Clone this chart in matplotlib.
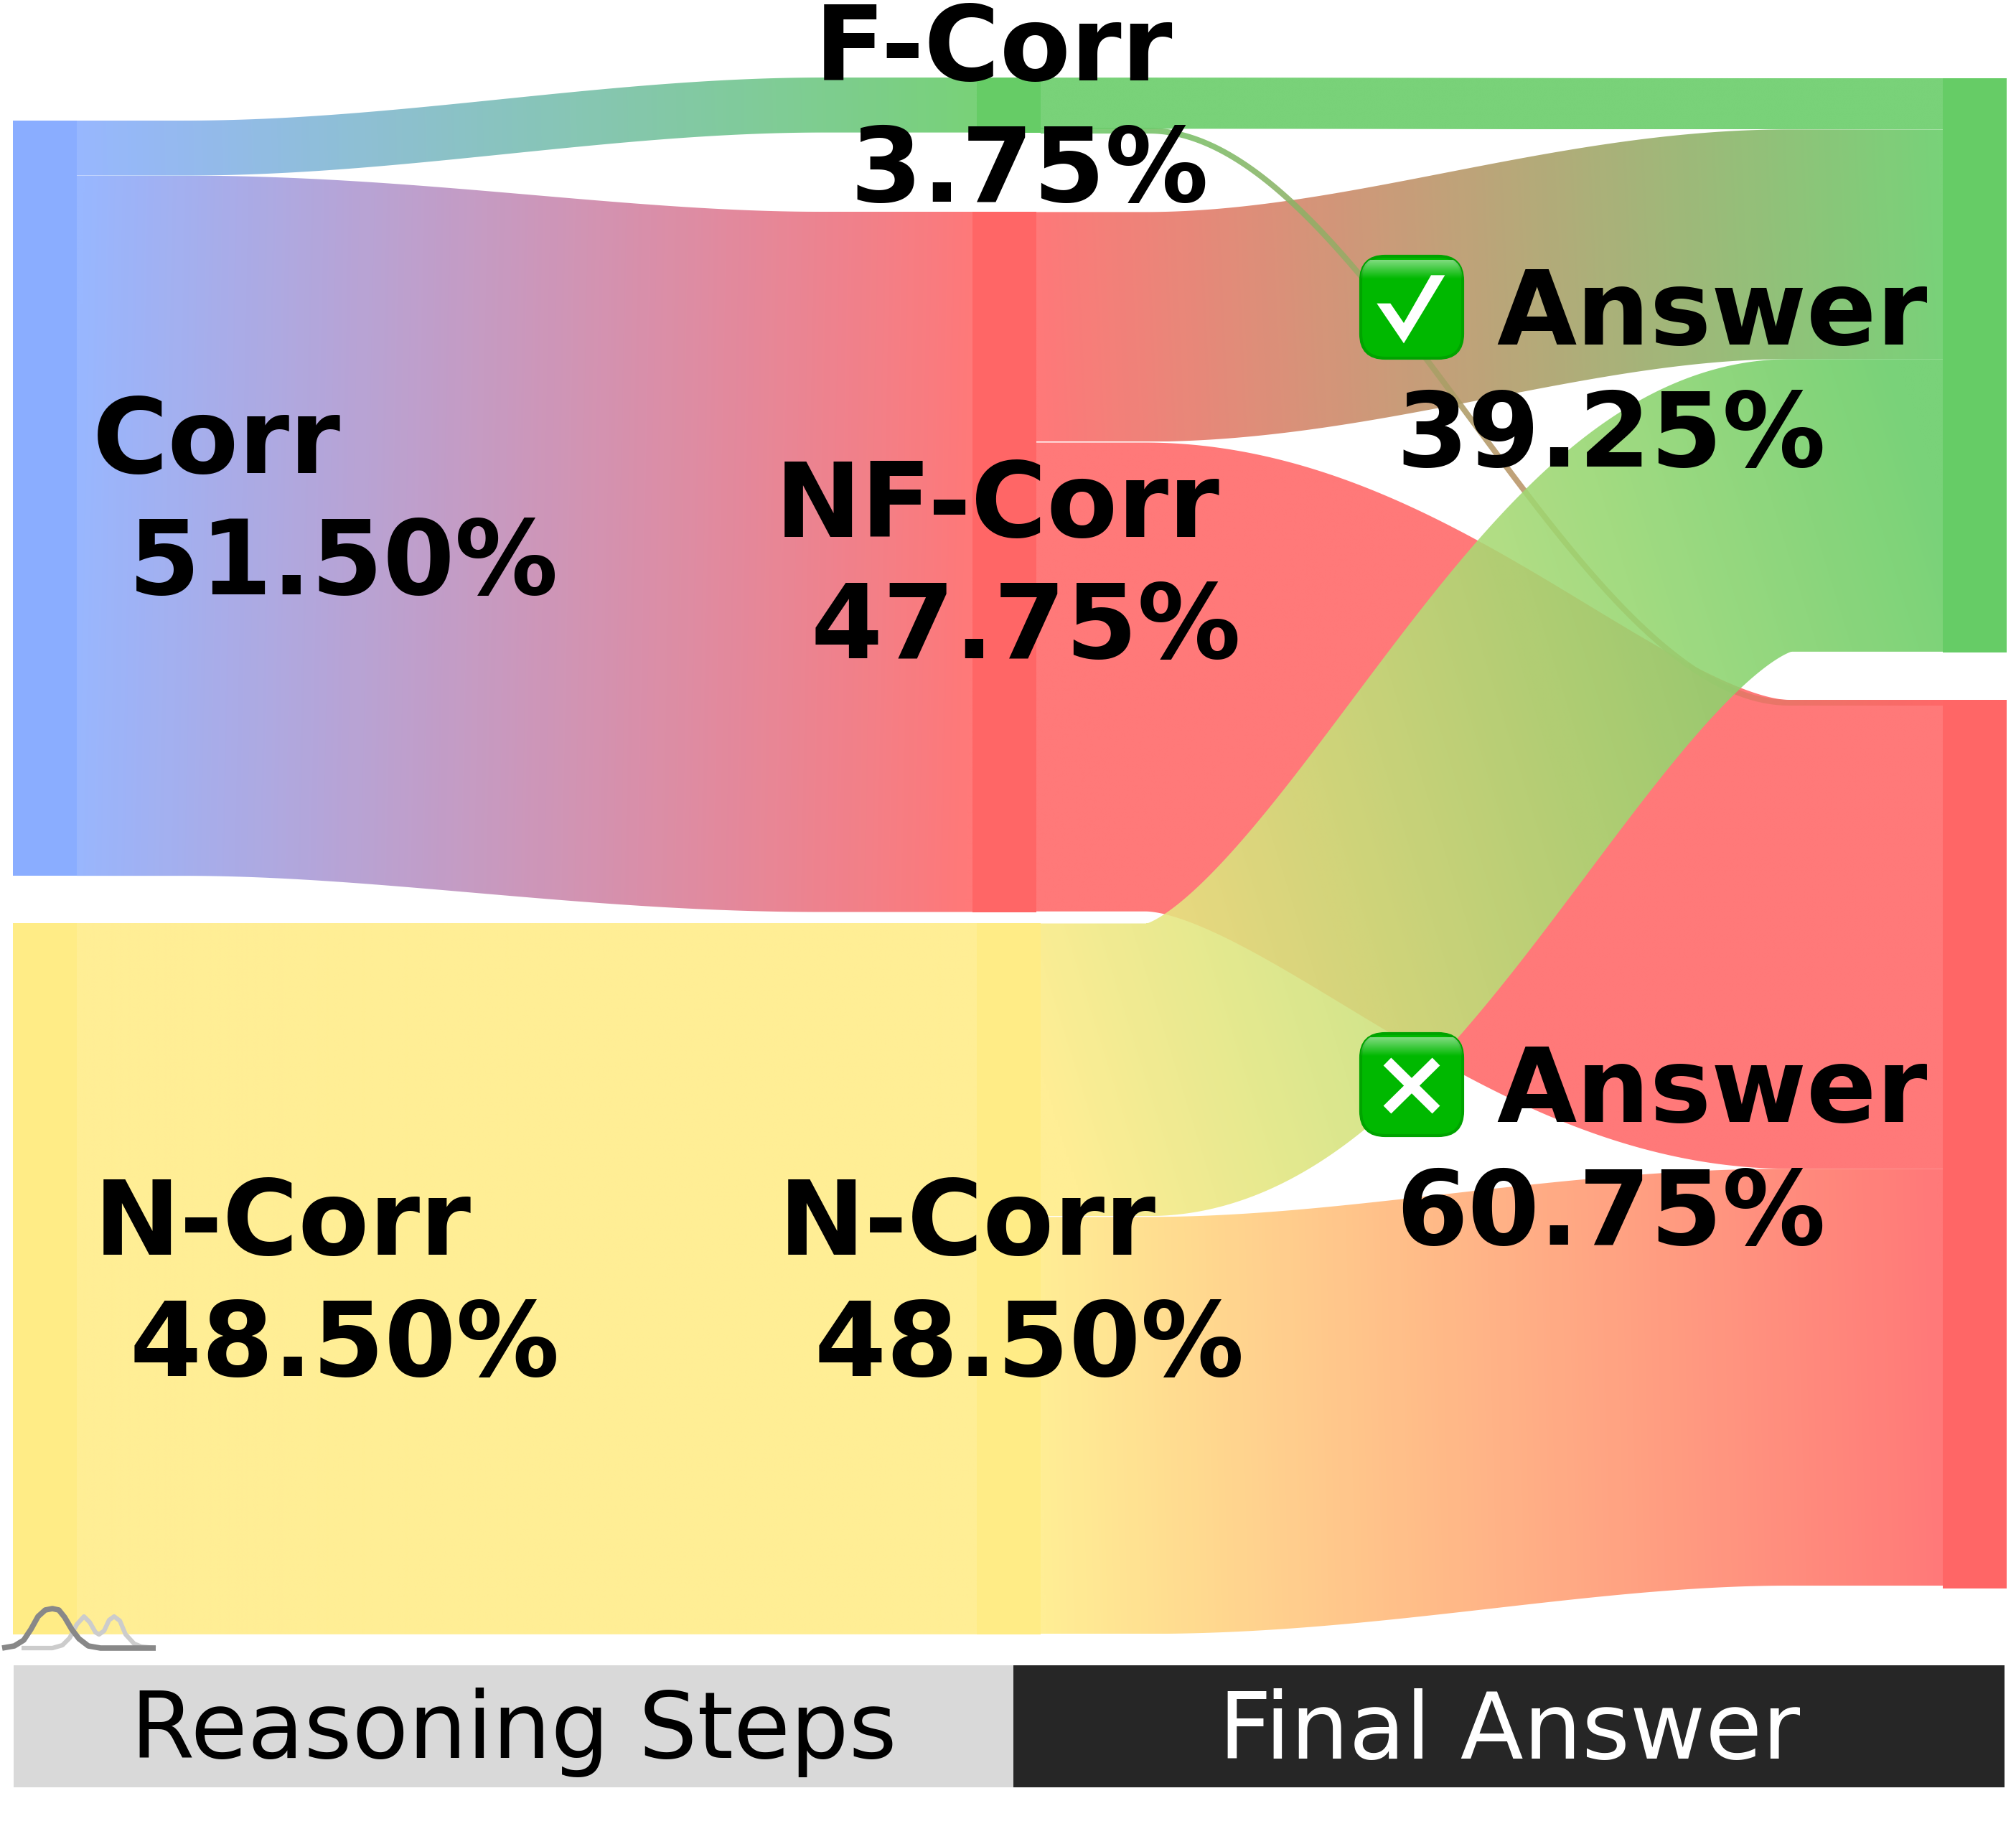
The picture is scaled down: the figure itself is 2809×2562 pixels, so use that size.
import numpy as np
import matplotlib
matplotlib.use("Agg")
import matplotlib.pyplot as plt
from matplotlib.colors import to_rgb
from matplotlib.patches import FancyBboxPatch, Polygon
from matplotlib.path import Path

W, H = 2809, 2562
PX_PER_PCT = 20.43
PX_PER_PCT_RIGHT = 20.38
LINK_ALPHA = 0.88
MIN_LINK_PX = 8
CURVE_K = 0.34
LEAD_IN = 0.12
LEAD_OUT = 0.17
GRADIENT_TILT = 0.5

# node name -> share in percent
node_names = ["Corr", "N-Corr L", "F-Corr", "NF-Corr", "N-Corr M", "Correct", "Wrong"]
node_values = [51.50, 48.50, 3.75, 47.75, 48.50, 39.25, 60.75]
node_colors = ["#8AADFF", "#FFEC86", "#66CC66", "#FF6666", "#FFEC86", "#66CC66", "#FF6666"]

# links, in drawing order
link_sources = ["Corr", "Corr", "N-Corr L", "NF-Corr", "N-Corr M", "NF-Corr", "F-Corr", "F-Corr", "N-Corr M"]
link_targets = ["F-Corr", "NF-Corr", "N-Corr M", "Wrong", "Wrong", "Correct", "Wrong", "Correct", "Correct"]
link_values = [3.75, 47.75, 48.50, 32.05, 28.50, 15.70, 0.25, 3.50, 20.00]

# logo in the lower left corner
logo_dark_x = [3, 20, 33, 43, 53, 63, 73, 82, 90, 100, 110, 123, 140, 217]
logo_dark_y = [2296, 2293, 2285, 2270, 2252, 2243, 2241, 2243, 2253, 2270, 2283, 2293, 2296, 2296]
logo_light_x = [30, 73, 87, 97, 107, 117, 125, 133, 138, 145, 152, 159, 167, 175, 187, 197, 217]
logo_light_y = [2296, 2296, 2292, 2282, 2263, 2252, 2260, 2274, 2277, 2272, 2257, 2252, 2258, 2277, 2290, 2294, 2296]

# layout of the sankey, in pixels of the reference
node_left = {"Corr": 18, "N-Corr L": 18, "F-Corr": 1361, "NF-Corr": 1355, "N-Corr M": 1361, "Correct": 2707, "Wrong": 2707}
node_top = {"Corr": 168, "N-Corr L": 1286, "F-Corr": 108, "NF-Corr": 295, "N-Corr M": 1286, "Correct": 109, "Wrong": 975}
NODE_W = 89

# top to bottom inside each node
out_order = {"Corr": ["F-Corr", "NF-Corr"], "N-Corr L": ["N-Corr M"], "F-Corr": ["Correct", "Wrong"],
             "NF-Corr": ["Correct", "Wrong"], "N-Corr M": ["Correct", "Wrong"]}
in_order = {"F-Corr": ["Corr"], "NF-Corr": ["Corr"], "N-Corr M": ["N-Corr L"],
            "Correct": ["F-Corr", "NF-Corr", "N-Corr M"], "Wrong": ["NF-Corr", "N-Corr M"]}

fig = plt.figure(figsize=(W / 100, H / 100), dpi=100)
ax = fig.add_axes([0, 0, 1, 1])
ax.set_axis_off()
ax.set_autoscale_on(False)
ax.set_xlim(0, W)
ax.set_ylim(H, 0)

value_of = dict(zip(node_names, node_values))
color_of = dict(zip(node_names, node_colors))
links = list(zip(link_sources, link_targets, link_values))
share = {(s, t): v for s, t, v in links}


def scale_of(name):
    return PX_PER_PCT_RIGHT if name in ("Correct", "Wrong") else PX_PER_PCT


def draw_link(x0, y0, x1, y1, width, c0, c1, zorder):
    # d3 style link: a thick stroke along a bezier, so built from triangles
    t = np.linspace(0, 1, 300)[:, None]
    dx = x1 - x0
    xa, xb = x0 + LEAD_IN * dx, x1 - LEAD_OUT * dx
    db = xb - xa
    p0, p1, p2, p3 = [np.array(p, float) for p in [(xa, y0), (xa + CURVE_K * db, y0), (xb - CURVE_K * db, y1), (xb, y1)]]
    c = (1 - t) ** 3 * p0 + 3 * (1 - t) ** 2 * t * p1 + 3 * (1 - t) * t ** 2 * p2 + t ** 3 * p3
    d = 3 * (1 - t) ** 2 * (p1 - p0) + 6 * (1 - t) * t * (p2 - p1) + 3 * t ** 2 * (p3 - p2)
    d = d / np.linalg.norm(d, axis=1, keepdims=True)
    # straight lead in and lead out next to the nodes
    c = np.vstack([[x0, y0], c, [x1, y1]])
    d = np.vstack([[1, 0], d, [1, 0]])
    n = np.column_stack([d[:, 1], -d[:, 0]])
    a = c + n * width / 2
    b = c - n * width / 2

    verts, codes = [], []
    for i in range(len(a) - 1):
        for tri in ([a[i], a[i + 1], b[i]], [a[i + 1], b[i + 1], b[i]]):
            (ax_, ay), (bx, by), (cx, cy) = tri
            if (bx - ax_) * (cy - ay) - (by - ay) * (cx - ax_) < 0:
                tri = [tri[0], tri[2], tri[1]]
            verts += list(tri) + [tri[0]]
            codes += [Path.MOVETO, Path.LINETO, Path.LINETO, Path.CLOSEPOLY]
    clip = Path(np.array(verts), codes)

    # gradient runs towards the target, tilted a little by the height difference
    lo, hi = min(a[:, 1].min(), b[:, 1].min()), max(a[:, 1].max(), b[:, 1].max())
    gx, gy = np.meshgrid(np.linspace(x0, x1, 400), np.linspace(lo, hi, 400))
    dy = (y1 - y0) * GRADIENT_TILT
    frac = np.clip(((gx - x0) * dx + (gy - y0) * dy) / (dx * dx + dy * (y1 - y0)), 0, 1)[:, :, None]
    rgb = (1 - frac) * np.array(to_rgb(c0)) + frac * np.array(to_rgb(c1))
    img = np.dstack([rgb, np.full(frac.shape, LINK_ALPHA)])
    im = ax.imshow(img, extent=(x0, x1, hi, lo), aspect="auto", interpolation="bilinear", zorder=zorder)
    im.set_clip_path(clip, transform=ax.transData)


y_out, y_in = {}, {}
for s, targets in out_order.items():
    y = node_top[s]
    for t in targets:
        y_out[(s, t)] = y
        y += share[(s, t)] * scale_of(s)
for t, sources in in_order.items():
    y = node_top[t]
    for s in sources:
        y_in[(s, t)] = y
        y += share[(s, t)] * scale_of(t)
# the hair thin F-Corr link lies on top of the NF-Corr one
y_in[("F-Corr", "Wrong")] = node_top["Wrong"]

for i, (s, t, v) in enumerate(links):
    w_s = v * scale_of(s)
    w = max(v * scale_of(t), MIN_LINK_PX)
    draw_link(node_left[s] + NODE_W, y_out[(s, t)] + w_s / 2, node_left[t], y_in[(s, t)] + w / 2,
              w, color_of[s], color_of[t], 2 + i * 0.01)

for name in node_names:
    ax.bar(node_left[name], value_of[name] * scale_of(name), NODE_W, bottom=node_top[name], align="edge",
           color=color_of[name], linewidth=0, zorder=3)

ax.plot(logo_light_x, logo_light_y, color="#CCCCCC", lw=4.5, zorder=4, solid_joinstyle="round", solid_capstyle="butt")
ax.plot(logo_dark_x, logo_dark_y, color="#888888", lw=5.5, zorder=4.1, solid_joinstyle="round", solid_capstyle="butt")

font = dict(family="DejaVu Sans", fontweight="bold", fontsize=103.5, color="black", zorder=6, va="baseline", ha="left", linespacing=1.26)
ax.text(129, 828, "Corr\n 51.50%", **font)
ax.text(1080, 917, "NF-Corr\n 47.75%", **font)
ax.text(1135, 281, "F-Corr\n 3.75%", **font)
ax.text(131, 1917, "N-Corr\n 48.50%", **font)
ax.text(1085, 1917, "N-Corr\n 48.50%", **font)
ax.text(2085, 480, "Answer", **font)
ax.text(1945, 650, "39.25%", **font)
ax.text(2085, 1563, "Answer", **font)
ax.text(1945, 1734, "60.75%", **font)


def emoji_box(x, y, size=142):
    box = FancyBboxPatch((x, y), size, size, boxstyle="round,pad=0,rounding_size=34", fc="#00B800", ec="#00A300",
                         lw=3, zorder=5)
    ax.add_patch(box)
    glow = np.zeros((32, 1, 4))
    glow[:, :, :3] = 1
    glow[:, 0, 3] = np.concatenate([np.zeros(5), np.linspace(0.5, 0, 27)])
    im = ax.imshow(glow, extent=(x, x + size, y + 32, y), aspect="auto", zorder=5.1)
    im.set_clip_path(box)


emoji_box(1896, 357)
check = np.array([(205, 368), (262, 368), (318, 450), (432, 250), (490, 250), (318, 535)]) / 3 + [1850, 300]
ax.add_patch(Polygon(check, closed=True, fc="white", ec="none", zorder=5.2))
emoji_box(1896, 1440)
ax.plot([1933, 2001], [1479, 1546], color="white", lw=11, zorder=5.2, solid_capstyle="butt")
ax.plot([1933, 2001], [1546, 1479], color="white", lw=11, zorder=5.2, solid_capstyle="butt")

ax.bar(19, 170, 1393, bottom=2320, align="edge", color="#D9D9D9", linewidth=0, zorder=3)
ax.bar(1412, 170, 1381, bottom=2320, align="edge", color="#262626", linewidth=0, zorder=3)
ax.text(716, 2414, "Reasoning Steps", fontsize=92.5, family="DejaVu Sans", color="black", ha="center", va="center", zorder=6)
ax.text(2103, 2414, "Final Answer", fontsize=92.5, family="DejaVu Sans", color="white", ha="center", va="center", zorder=6)

ax.set_xlim(0, W)
ax.set_ylim(H, 0)
fig.savefig("out.png", dpi=100, facecolor="white")
